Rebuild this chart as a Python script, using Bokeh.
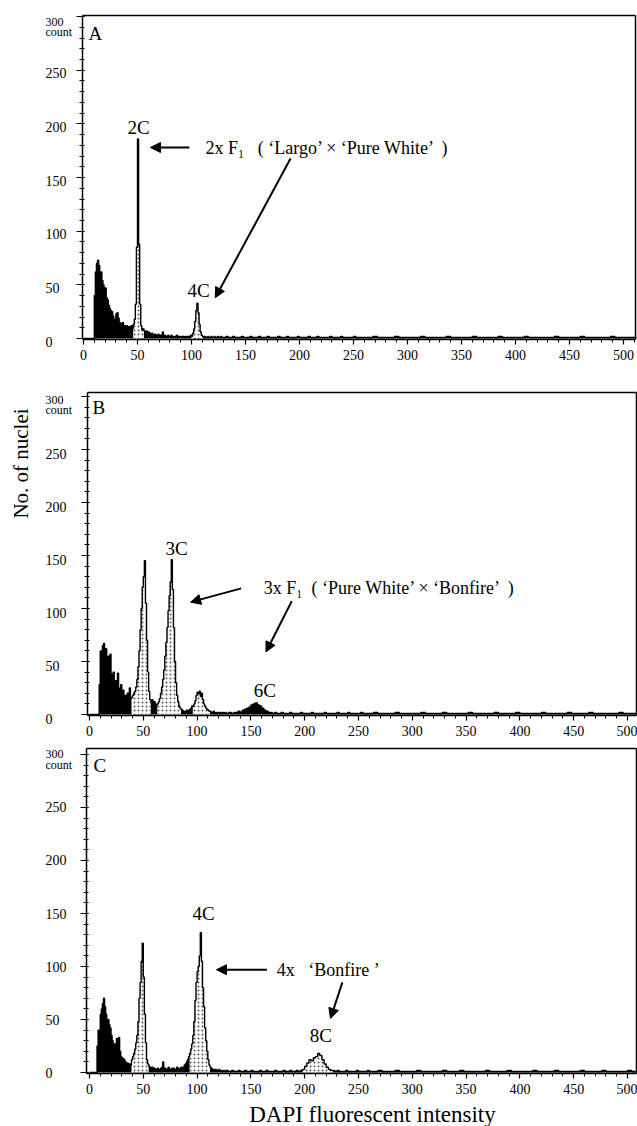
import math
from bokeh.plotting import figure
from bokeh.layouts import column
from bokeh.models import Range1d, FixedTicker, Arrow, NormalHead, LinearAxis
from bokeh.core.properties import value
from bokeh.embed import file_html
from bokeh.resources import INLINE

# ---------------- data ----------------
# bin left edges (DAPI channel): width 1 up to 130, width 2 up to 260, width 4 after
edges_fine = list(range(0, 130))
edges_mid = list(range(130, 260, 2))
edges_tail = list(range(260, 512, 4))
bin_edges = edges_fine + edges_mid + edges_tail
last_edge = 512

# Panel A: 2x F1 ('Largo' x 'Pure White')
a_fine = [0, 0, 0, 0, 0, 0, 0, 0, 0, 0,
          40, 62, 70, 73, 68, 58, 62, 54, 50, 44,
          47, 38, 36, 31, 28, 26, 25, 21, 18, 16,
          23, 24, 19, 15, 14, 13, 15, 12, 12, 11,
          12, 10, 11, 10, 12, 9, 13, 18, 32, 85,
          186, 88, 32, 12, 8, 9, 7, 6, 7, 5,
          6, 5, 4, 5, 4, 3, 4, 3, 3, 4,
          2, 3, 3, 6, 2, 3, 2, 2, 3, 2,
          2, 3, 2, 1, 2, 2, 3, 1, 2, 2,
          1, 2, 2, 1, 2, 1, 2, 2, 1, 3,
          2, 5, 9, 16, 26, 33, 24, 13, 6, 3,
          2, 1, 2, 1, 1, 2, 1, 1, 2, 1,
          1, 2, 1, 1, 2, 1, 1, 2, 1, 1]
a_mid = [1, 2, 1, 1, 2, 1, 1, 1, 2, 1, 1, 1, 2, 1, 1, 1, 2, 1, 1, 1,
         2, 1, 1, 1, 1, 2, 1, 1, 1, 2, 1, 1, 1, 1, 2, 1, 1, 1, 1, 2,
         1, 1, 1, 2, 1, 1, 1, 1, 1, 2, 1, 1, 1, 1, 2, 1, 1, 1, 1, 1,
         2, 1, 1, 1, 1]
a_tail = [1, 1, 2, 1, 1, 1, 1, 2, 1, 1, 1, 1, 1, 2, 1, 1, 1, 1, 1, 2,
          1, 1, 1, 1, 1, 2, 1, 1, 1, 1, 1, 2, 1, 1, 1, 1, 1, 2, 1, 1,
          1, 1, 1, 1, 2, 1, 1, 1, 1, 1, 2, 1, 1, 1, 1, 1, 1, 2, 1, 1,
          1, 1, 1]
a_gates = [(46, 56), (100, 111)]

# Panel B: 3x F1 ('Pure White' x 'Bonfire')
b_fine = [0, 0, 0, 0, 0, 0, 0, 0, 0, 28,
          60, 55, 65, 67, 60, 62, 50, 55, 45, 57,
          38, 36, 40, 28, 32, 27, 39, 25, 22, 28,
          20, 23, 16, 18, 14, 20, 12, 25, 15, 16,
          18, 20, 22, 26, 33, 45, 60, 80, 100, 120,
          130, 145, 105, 70, 40, 22, 14, 12, 14, 8,
          12, 10, 9, 10, 12, 15, 20, 26, 33, 42,
          55, 68, 82, 98, 112, 125, 146, 118, 82, 50,
          30, 18, 12, 8, 6, 5, 4, 3, 2, 3,
          4, 3, 4, 5, 6, 8, 8, 10, 13, 18,
          21, 20, 22, 17, 20, 14, 10, 8, 6, 5,
          4, 3, 3, 2, 2, 3, 2, 1, 2, 2,
          1, 2, 1, 2, 2, 1, 2, 1, 1, 2]
b_mid = [2, 1, 2, 2, 3, 2, 4, 5, 6, 7, 9, 10, 11, 9, 8, 6, 4, 3, 2, 2,
         1, 2, 1, 1, 2, 1, 1, 1, 2, 1, 1, 1, 1, 2, 1, 1, 1, 1, 2, 1,
         1, 1, 1, 1, 2, 1, 1, 1, 1, 1, 2, 1, 1, 1, 1, 2, 1, 1, 1, 1,
         1, 2, 1, 1, 1]
b_tail = [1, 2, 1, 1, 1, 1, 2, 1, 1, 1, 1, 1, 2, 1, 1, 1, 1, 2, 1, 1,
          1, 1, 1, 2, 1, 1, 1, 1, 1, 2, 1, 1, 1, 1, 2, 1, 1, 1, 1, 1,
          2, 1, 1, 1, 1, 1, 2, 1, 1, 1, 1, 2, 1, 1, 1, 1, 1, 1, 2, 1,
          1, 1, 1]
b_gates = [(39, 57), (63, 85), (96, 112)]

# Panel C: 4x 'Bonfire'
c_fine = [0, 0, 0, 0, 0, 0, 0, 25, 40, 35,
          55, 60, 65, 70, 62, 55, 48, 50, 45, 42,
          35, 30, 25, 27, 22, 32, 28, 33, 20, 15,
          14, 13, 12, 10, 9, 9, 8, 8, 7, 12,
          15, 18, 22, 28, 35, 48, 70, 85, 105, 122,
          90, 55, 28, 12, 8, 6, 5, 4, 5, 3,
          4, 3, 3, 4, 3, 3, 4, 5, 10, 3,
          4, 3, 3, 5, 3, 3, 4, 3, 4, 3,
          3, 5, 4, 3, 4, 5, 4, 5, 7, 8,
          10, 12, 15, 18, 22, 27, 35, 48, 68, 85,
          95, 100, 110, 132, 105, 80, 62, 42, 30, 20,
          12, 7, 5, 4, 3, 3, 2, 3, 2, 2,
          3, 2, 2, 1, 2, 2, 1, 2, 2, 1]
c_mid = [1, 2, 1, 1, 2, 1, 1, 2, 1, 1, 2, 1, 1, 1, 2, 1, 1, 2, 1, 1,
         1, 2, 1, 1, 1, 2, 1, 1, 2, 1,
         1, 2, 1, 2, 3, 6, 9, 12, 11, 14, 15, 18, 16, 12, 8, 5, 3, 2, 2,
         1, 2, 1, 1, 1, 2, 1, 1, 1, 1, 2, 1, 1, 1, 1, 2]
c_tail = [1, 1, 2, 1, 1, 1, 2, 1, 1, 1, 1, 2, 1, 1, 1, 1, 1, 2, 1, 1,
          1, 2, 1, 1, 1, 1, 1, 2, 1, 1, 1, 1, 2, 1, 1, 1, 1, 1, 2, 1,
          1, 1, 1, 2, 1, 1, 1, 1, 1, 2, 1, 1, 1, 1, 2, 1, 1, 1, 1, 1,
          2, 1, 1]
c_gates = [(39, 55), (93, 112), (198, 226)]

x_ticks = [0, 50, 100, 150, 200, 250, 300, 350, 400, 450, 500]
y_ticks = [0, 50, 100, 150, 200, 250, 300]
y_tick_labels = ["0", "50", "100", "150", "200", "250"]

# ---------------- styling ----------------
FONT = value("Liberation Serif")
WIDTH = 637
NB = "\u00a0"


def txt(p, x, y, s, size, align="center", baseline="middle", angle=0.0):
    p.text(x=[x], y=[y], text=[s], text_font=FONT, text_font_size=f"{size}px",
           text_align=align, text_baseline=baseline, angle=angle,
           text_color="black")


def arrow(p, x0, y0, x1, y1):
    p.add_layout(Arrow(x_start=x0, y_start=y0, x_end=x1, y_end=y1,
                       line_color="black", line_width=2,
                       end=NormalHead(size=10, fill_color="black",
                                      line_color="black", line_width=1)))


def panel(counts, gates, letter, height, xr, yr, x_left, x_right, y_top,
          lab_x, lab_dy, y300, letter_x, letter_y):
    p = figure(width=WIDTH, height=height, x_range=Range1d(*xr),
               y_range=Range1d(*yr), output_backend="svg",
               toolbar_location=None, min_border=0)
    p.grid.visible = False
    p.background_fill_color = "white"
    p.border_fill_color = "white"
    p.outline_line_color = None

    xs = bin_edges + [last_edge]
    ys = counts + [counts[-1]]
    p.varea_step(x=xs, y1=[0] * len(xs), y2=ys, step_mode="after",
                 fill_color="black")
    for g0, g1 in gates:
        gx = [e for e in xs if g0 <= e <= g1]
        gy = [v for e, v in zip(xs, ys) if g0 <= e <= g1]
        p.varea_step(x=gx, y1=[0] * len(gx), y2=gy, step_mode="after",
                     fill_color="white", hatch_pattern="dot", hatch_scale=4,
                     hatch_color="#555555", hatch_weight=1)
    p.step(x=xs, y=ys, mode="after", line_color="black", line_width=1.4)

    xa = p.xaxis[0]
    xa.fixed_location = -0.5
    xa.bounds = (x_left, x_right)
    xa.ticker = FixedTicker(ticks=x_ticks, minor_ticks=list(range(0, 511, 10)))
    xa.axis_line_width = 1.5
    xa.major_tick_out = 5
    xa.major_tick_in = 0
    xa.minor_tick_out = 3
    xa.minor_tick_in = 0
    xa.major_tick_line_width = 1.2
    xa.major_label_standoff = 6
    xa.major_label_text_font = "Liberation Serif"
    xa.major_label_text_font_size = "14px"
    xa.major_label_text_color = "black"

    ya = p.yaxis[0]
    ya.fixed_location = x_left
    ya.bounds = (-0.5, y_top)
    ya.ticker = FixedTicker(ticks=y_ticks, minor_ticks=list(range(0, 301, 10)))
    ya.axis_line_width = 1.5
    ya.major_tick_out = 6
    ya.major_tick_in = 2
    ya.minor_tick_out = 3
    ya.minor_tick_in = 2
    ya.major_tick_line_width = 1.2
    ya.major_label_overrides = {v: "" for v in y_ticks}

    top_ax = LinearAxis(fixed_location=y_top, bounds=(x_left, x_right),
                        ticker=FixedTicker(ticks=[]), axis_line_width=1.5,
                        major_tick_out=0, minor_tick_out=0)
    p.add_layout(top_ax, "above")
    right_ax = LinearAxis(fixed_location=x_right, bounds=(-0.5, y_top),
                          ticker=FixedTicker(ticks=[]), axis_line_width=1.5,
                          major_tick_out=0, minor_tick_out=0)
    p.add_layout(right_ax, "right")

    for v, lab in zip(y_ticks, y_tick_labels):
        txt(p, lab_x, v + lab_dy, lab, 14, align="left")
    txt(p, lab_x, y300, "300", 12, align="left")
    txt(p, lab_x, y300 - 10, "count", 12, align="left")
    txt(p, letter_x, letter_y, letter, 19, align="left")
    return p


# panel A: page 0-380 ; panel B: page 380-744 ; panel C: page 744-1126
pA = panel(a_fine + a_mid + a_tail, a_gates, "A", 380,
           (-76.85, 512.96), (-39.14, 315.0), -0.93, 511.1, 301,
           -35.2, -3, 295.4, 4.6, 284)
pB = panel(b_fine + b_mid + b_tail, b_gates, "B", 364,
           (-82.71, 509.3), (-28.3, 315.1), -1.86, 508.4, 303.8,
           -40.9, -4, 297, 2.8, 289.6)
pC = panel(c_fine + c_mid + c_tail, c_gates, "C", 382,
           (-82.71, 509.3), (-50.9, 309.4), -2.79, 508.4, 305.7,
           -40.9, 0, 300, 3.7, 289.6)

# Panel A annotations
txt(pA, 51, 197, "2C", 19)
arrow(pA, 98, 178, 62, 178)
txt(pA, 113, 178, f"2x F\u2081 {NB}{NB}( \u2018Largo\u2019 \u00d7 \u2018Pure White\u2019 {NB})", 18, align="left")
arrow(pA, 191.7, 167.8, 122, 38)
txt(pA, 106.5, 44.7, "4C", 19)

# Panel B annotations
txt(pB, 81, 157, "3C", 19)
arrow(pB, 141, 119, 94, 106)
txt(pB, 162, 119, f"3x F\u2081 {NB}( \u2018Pure White\u2019 \u00d7 \u2018Bonfire\u2019 {NB})", 18, align="left")
arrow(pB, 188, 107, 164, 59)
txt(pB, 163, 23, "6C", 19)
txt(pB, -64.1, 236.8, "No. of nuclei", 21, angle=math.pi / 2)

# Panel C annotations
txt(pC, 106, 150, "4C", 19)
arrow(pC, 165, 97, 118, 97)
txt(pC, 174, 97, f"4x {NB}{NB}\u2018Bonfire \u2019", 18, align="left")
arrow(pC, 235, 85, 224, 51)
txt(pC, 215, 35, "8C", 19)
txt(pC, 263, -39.6, "DAPI fluorescent intensity", 23)

layout = column(pA, pB, pC, spacing=0)
open("out.html", "w").write(file_html(layout, INLINE))
